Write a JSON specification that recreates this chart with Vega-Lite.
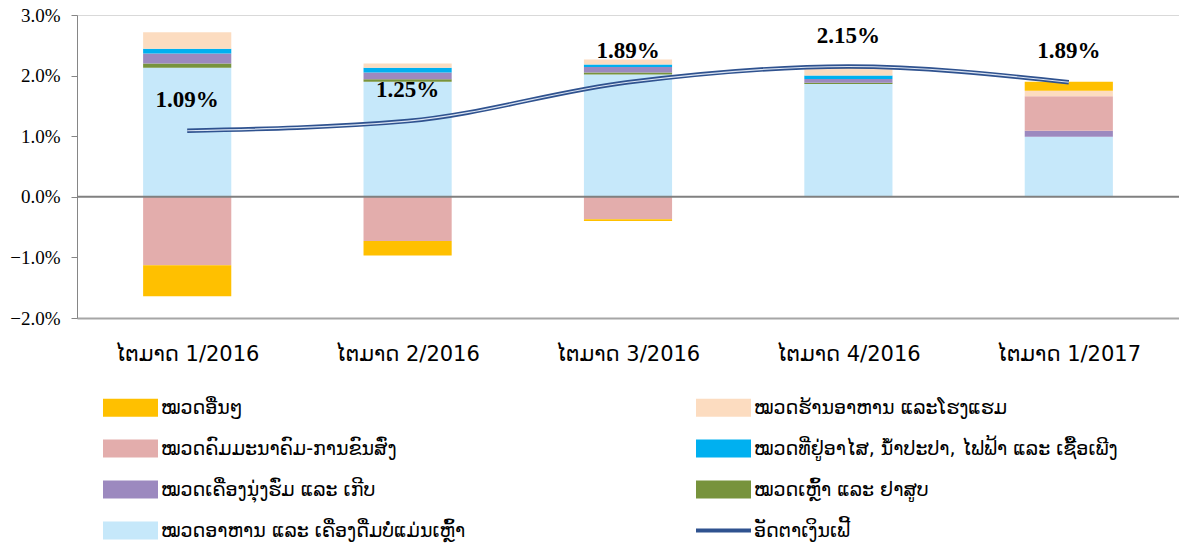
{
  "$schema": "https://vega.github.io/schema/vega-lite/v6.json",
  "width": 1102,
  "height": 303,
  "autosize": "none",
  "padding": {"left": 77, "top": 15, "right": 0, "bottom": 229},
  "background": "white",
  "config": {"view": {"stroke": "#d9d9d9", "strokeWidth": 1}, "font": "DejaVu Sans"},
  "datasets": {
    "bars": [
      {"quarter": "ໄຕມາດ 1/2016", "category": "ໝວດອາຫານ ແລະ ເຄື່ອງດື່ມບໍ່ແມ່ນເຫຼົ້າ", "s": 1, "value": 0.0213},
      {"quarter": "ໄຕມາດ 1/2016", "category": "ໝວດເຫຼົ້າ ແລະ ຢາສູບ", "s": 2, "value": 0.0007},
      {"quarter": "ໄຕມາດ 1/2016", "category": "ໝວດເຄື່ອງນຸ່ງຮົ່ມ ແລະ ເກີບ", "s": 3, "value": 0.00165},
      {"quarter": "ໄຕມາດ 1/2016", "category": "ໝວດທີ່ຢູ່ອາໄສ, ນ້ຳປະປາ, ໄຟຟ້າ ແລະ ເຊື້ອເພີງ", "s": 4, "value": 0.0008},
      {"quarter": "ໄຕມາດ 1/2016", "category": "ໝວດຄົມມະນາຄົມ-ການຂົນສົ່ງ", "s": 5, "value": -0.0113},
      {"quarter": "ໄຕມາດ 1/2016", "category": "ໝວດຮ້ານອາຫານ ແລະໂຮງແຮມ", "s": 6, "value": 0.0027},
      {"quarter": "ໄຕມາດ 1/2016", "category": "ໝວດອື່ນໆ", "s": 7, "value": -0.0051},
      {"quarter": "ໄຕມາດ 2/2016", "category": "ໝວດອາຫານ ແລະ ເຄື່ອງດື່ມບໍ່ແມ່ນເຫຼົ້າ", "s": 1, "value": 0.0190},
      {"quarter": "ໄຕມາດ 2/2016", "category": "ໝວດເຫຼົ້າ ແລະ ຢາສູບ", "s": 2, "value": 0.0004},
      {"quarter": "ໄຕມາດ 2/2016", "category": "ໝວດເຄື່ອງນຸ່ງຮົ່ມ ແລະ ເກີບ", "s": 3, "value": 0.0011},
      {"quarter": "ໄຕມາດ 2/2016", "category": "ໝວດທີ່ຢູ່ອາໄສ, ນ້ຳປະປາ, ໄຟຟ້າ ແລະ ເຊື້ອເພີງ", "s": 4, "value": 0.0008},
      {"quarter": "ໄຕມາດ 2/2016", "category": "ໝວດຄົມມະນາຄົມ-ການຂົນສົ່ງ", "s": 5, "value": -0.0073},
      {"quarter": "ໄຕມາດ 2/2016", "category": "ໝວດຮ້ານອາຫານ ແລະໂຮງແຮມ", "s": 6, "value": 0.0007},
      {"quarter": "ໄຕມາດ 2/2016", "category": "ໝວດອື່ນໆ", "s": 7, "value": -0.0024},
      {"quarter": "ໄຕມາດ 3/2016", "category": "ໝວດອາຫານ ແລະ ເຄື່ອງດື່ມບໍ່ແມ່ນເຫຼົ້າ", "s": 1, "value": 0.0202},
      {"quarter": "ໄຕມາດ 3/2016", "category": "ໝວດເຫຼົ້າ ແລະ ຢາສູບ", "s": 2, "value": 0.0003},
      {"quarter": "ໄຕມາດ 3/2016", "category": "ໝວດເຄື່ອງນຸ່ງຮົ່ມ ແລະ ເກີບ", "s": 3, "value": 0.0009},
      {"quarter": "ໄຕມາດ 3/2016", "category": "ໝວດທີ່ຢູ່ອາໄສ, ນ້ຳປະປາ, ໄຟຟ້າ ແລະ ເຊື້ອເພີງ", "s": 4, "value": 0.00045},
      {"quarter": "ໄຕມາດ 3/2016", "category": "ໝວດຄົມມະນາຄົມ-ການຂົນສົ່ງ", "s": 5, "value": -0.0037},
      {"quarter": "ໄຕມາດ 3/2016", "category": "ໝວດຮ້ານອາຫານ ແລະໂຮງແຮມ", "s": 6, "value": 0.0008},
      {"quarter": "ໄຕມາດ 3/2016", "category": "ໝວດອື່ນໆ", "s": 7, "value": -0.0003},
      {"quarter": "ໄຕມາດ 4/2016", "category": "ໝວດອາຫານ ແລະ ເຄື່ອງດື່ມບໍ່ແມ່ນເຫຼົ້າ", "s": 1, "value": 0.0186},
      {"quarter": "ໄຕມາດ 4/2016", "category": "ໝວດເຫຼົ້າ ແລະ ຢາສູບ", "s": 2, "value": 0.0002},
      {"quarter": "ໄຕມາດ 4/2016", "category": "ໝວດເຄື່ອງນຸ່ງຮົ່ມ ແລະ ເກີບ", "s": 3, "value": 0.00065},
      {"quarter": "ໄຕມາດ 4/2016", "category": "ໝວດທີ່ຢູ່ອາໄສ, ນ້ຳປະປາ, ໄຟຟ້າ ແລະ ເຊື້ອເພີງ", "s": 4, "value": 0.00055},
      {"quarter": "ໄຕມາດ 4/2016", "category": "ໝວດຄົມມະນາຄົມ-ການຂົນສົ່ງ", "s": 5, "value": 0.0},
      {"quarter": "ໄຕມາດ 4/2016", "category": "ໝວດຮ້ານອາຫານ ແລະໂຮງແຮມ", "s": 6, "value": 0.0012},
      {"quarter": "ໄຕມາດ 4/2016", "category": "ໝວດອື່ນໆ", "s": 7, "value": 0.0003},
      {"quarter": "ໄຕມາດ 1/2017", "category": "ໝວດອາຫານ ແລະ ເຄື່ອງດື່ມບໍ່ແມ່ນເຫຼົ້າ", "s": 1, "value": 0.0099},
      {"quarter": "ໄຕມາດ 1/2017", "category": "ໝວດເຫຼົ້າ ແລະ ຢາສູບ", "s": 2, "value": 0.0},
      {"quarter": "ໄຕມາດ 1/2017", "category": "ໝວດເຄື່ອງນຸ່ງຮົ່ມ ແລະ ເກີບ", "s": 3, "value": 0.0010},
      {"quarter": "ໄຕມາດ 1/2017", "category": "ໝວດທີ່ຢູ່ອາໄສ, ນ້ຳປະປາ, ໄຟຟ້າ ແລະ ເຊື້ອເພີງ", "s": 4, "value": 0.0},
      {"quarter": "ໄຕມາດ 1/2017", "category": "ໝວດຄົມມະນາຄົມ-ການຂົນສົ່ງ", "s": 5, "value": 0.0057},
      {"quarter": "ໄຕມາດ 1/2017", "category": "ໝວດຮ້ານອາຫານ ແລະໂຮງແຮມ", "s": 6, "value": 0.0009},
      {"quarter": "ໄຕມາດ 1/2017", "category": "ໝວດອື່ນໆ", "s": 7, "value": 0.0015}
    ],
    "inflation": [
      {"quarter": "ໄຕມາດ 1/2016", "rate": 0.0109},
      {"quarter": "ໄຕມາດ 2/2016", "rate": 0.0125},
      {"quarter": "ໄຕມາດ 3/2016", "rate": 0.0189},
      {"quarter": "ໄຕມາດ 4/2016", "rate": 0.0215},
      {"quarter": "ໄຕມາດ 1/2017", "rate": 0.0189}
    ]
  },
  "encoding": {
    "x": {
      "field": "quarter", "type": "nominal", "sort": null, "title": null,
      "scale": {"paddingInner": 0.6, "paddingOuter": 0.3},
      "axis": {"orient": "bottom", "ticks": false, "labelAngle": 0, "labelFont": "DejaVu Sans", "labelFontSize": 21, "labelColor": "#000000", "labelPadding": 25, "domainColor": "#a6a6a6", "domainWidth": 2}
    }
  },
  "layer": [
    {
      "data": {"name": "bars"},
      "mark": {"type": "bar"},
      "encoding": {
        "y": {
          "field": "value", "type": "quantitative", "stack": "zero", "title": null,
          "scale": {"domain": [-0.02, 0.03], "nice": false, "zero": false},
          "axis": {"format": ".1%", "values": [-0.02, -0.015, -0.01, -0.005, 0, 0.005, 0.01, 0.015, 0.02, 0.025, 0.03], "grid": false, "labelFont": "Liberation Serif", "labelFontSize": 19, "labelColor": "#000000", "tickColor": "#868686", "tickSize": 6, "domainColor": "#868686", "labelPadding": 11}
        },
        "color": {
          "field": "category", "type": "nominal",
          "scale": {
            "domain": ["ໝວດອື່ນໆ", "ໝວດຄົມມະນາຄົມ-ການຂົນສົ່ງ", "ໝວດເຄື່ອງນຸ່ງຮົ່ມ ແລະ ເກີບ", "ໝວດອາຫານ ແລະ ເຄື່ອງດື່ມບໍ່ແມ່ນເຫຼົ້າ", "ໝວດຮ້ານອາຫານ ແລະໂຮງແຮມ", "ໝວດທີ່ຢູ່ອາໄສ, ນ້ຳປະປາ, ໄຟຟ້າ ແລະ ເຊື້ອເພີງ", "ໝວດເຫຼົ້າ ແລະ ຢາສູບ", "ອັດຕາເງິນເຟີ້"],
            "range": ["#ffc000", "#e3adac", "#9c89bf", "#c6e8fa", "#fcdcc0", "#00b0f0", "#77933c", "#2f528f"]
          },
          "legend": {
            "title": null, "orient": "none", "legendX": 44, "legendY": 383, "columns": 2, "padding": 0,
            "labelFont": "DejaVu Sans", "labelFontSize": 19, "labelColor": "#000000", "labelLimit": 600,
            "symbolSize": 3025, "symbolType": "M-1,-0.33H1V0.33H-1Z", "symbolStrokeWidth": 0,
            "labelOffset": 21, "columnPadding": 222, "rowPadding": 21,
            "encode": {
              "symbols": {
                "update": {
                  "shape": {"signal": "datum.value === 'ອັດຕາເງິນເຟີ້' ? 'stroke' : 'M-1,-0.33H1V0.33H-1Z'"},
                  "fill": {"signal": "datum.value === 'ອັດຕາເງິນເຟີ້' ? 'transparent' : scale('color', datum.value)"},
                  "stroke": {"signal": "datum.value === 'ອັດຕາເງິນເຟີ້' ? '#2f528f' : 'transparent'"},
                  "strokeWidth": {"signal": "datum.value === 'ອັດຕາເງິນເຟີ້' ? 4 : 0"},
                  "opacity": {"value": 1}
                }
              }
            }
          }
        },
        "order": {"field": "s", "type": "quantitative", "sort": "ascending"}
      }
    },
    {
      "data": {"values": [{"zero": 0}]},
      "mark": {"type": "rule", "color": "#808080", "strokeWidth": 2},
      "encoding": {"y": {"field": "zero", "type": "quantitative"}, "x": null}
    },
    {
      "data": {"name": "inflation"},
      "mark": {"type": "line", "interpolate": "monotone", "strokeWidth": 4.5},
      "encoding": {
        "y": {"field": "rate", "type": "quantitative"},
        "color": {"datum": "ອັດຕາເງິນເຟີ້"}
      }
    },
    {
      "data": {"name": "inflation"},
      "mark": {"type": "line", "interpolate": "monotone", "strokeWidth": 1.2, "color": "#dbe4f2"},
      "encoding": {"y": {"field": "rate", "type": "quantitative"}}
    },
    {
      "data": {"name": "inflation"},
      "mark": {"type": "text", "font": "Liberation Serif", "fontSize": 23, "fontWeight": "bold", "color": "#000000", "dy": -31},
      "encoding": {
        "y": {"field": "rate", "type": "quantitative"},
        "text": {"field": "rate", "type": "quantitative", "format": ".2%"}
      }
    }
  ]
}
